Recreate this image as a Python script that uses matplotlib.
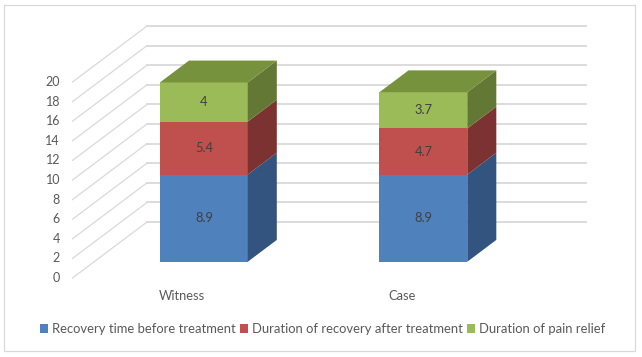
import numpy as np
import matplotlib
matplotlib.use('Agg')
import matplotlib.pyplot as plt
from matplotlib.patches import Polygon, Rectangle, Patch

categories = ['Witness', 'Case']
series_names = ['Recovery time before treatment',
                'Duration of recovery after treatment',
                'Duration of pain relief']
before = [8.9, 8.9]
after = [5.4, 4.7]
relief = [4, 3.7]
yticks = [0, 2, 4, 6, 8, 10, 12, 14, 16, 18, 20]

front_colors = ['#4F81BD', '#C0504D', '#9BBB59']
side_colors = ['#33547E', '#7B3230', '#637835']
top_color = '#76923C'
grid_c = '#D9D9D9'
text_c = '#595959'

plt.rcParams['font.family'] = ['Lato', 'DejaVu Sans']

W, H = 642, 357
fig = plt.figure(figsize=(W / 100, H / 100), dpi=100)
ax = fig.add_axes([0, 0, 1, 1])
ax.axis('off')

# pixel layout -> data: floor front-left corner at px (72.5, 278), 219.5 px per category, 9.8 px per unit
x0px, y0px, xs, ys = 72.5, 278, 219.5, 9.8
ax.set_xlim(-0.5 - x0px / xs, -0.5 + (W - x0px) / xs)
ax.set_ylim(-(H - y0px) / ys, y0px / ys)

# depth vector of the "3D" box (full depth of the floor)
dx, dy = 74.5 / xs, 56 / ys
bar_front, bar_depth = 0.29, 0.39
width = 0.40
n = len(categories)

# walls
for v in yticks:
    ax.plot([-0.5, -0.5 + dx], [v, v + dy], color=grid_c, lw=0.9, zorder=1)
    ax.plot([-0.5 + dx, n - 0.5 + dx], [v + dy, v + dy], color=grid_c, lw=1.3, zorder=1)
    ax.text(-0.5 - 12.5 / xs, v, str(v), ha='right', va='center', fontsize=9, color=text_c)

# bars
x = np.arange(n)
stack = [before, after, relief]
bottoms = np.zeros(n)
for k, vals in enumerate(stack):
    vals = np.array(vals, dtype=float)
    xf = x + bar_front * dx
    yb = bottoms + bar_front * dy
    ax.bar(xf, vals, width=width, bottom=yb, color=front_colors[k], zorder=3)
    for i in range(n):
        xr = xf[i] + width / 2
        xl = xf[i] - width / 2
        y1, y2 = yb[i], yb[i] + vals[i]
        ax.add_patch(Polygon([(xr, y1), (xr + bar_depth * dx, y1 + bar_depth * dy),
                              (xr + bar_depth * dx, y2 + bar_depth * dy), (xr, y2)],
                             closed=True, fc=side_colors[k], ec='none', zorder=3))
        if k == len(stack) - 1:
            ax.add_patch(Polygon([(xl, y2), (xl + bar_depth * dx, y2 + bar_depth * dy),
                                  (xr + bar_depth * dx, y2 + bar_depth * dy), (xr, y2)],
                                 closed=True, fc=top_color, ec='none', zorder=3))
        lbl = ('%g' % vals[i])
        ax.text(xf[i], y1 + vals[i] / 2, lbl, ha='center', va='center',
                fontsize=9.3, color='#404040', zorder=5)
    bottoms = bottoms + vals

for i, c in enumerate(categories):
    ax.text(i, -17.7 / ys, c, ha='center', va='center', fontsize=9.3, color=text_c)

# legend
handles = [Patch(fc=c, ec='none') for c in front_colors]
fig.legend(handles, series_names, loc='center', bbox_to_anchor=(322.5 / W, 1 - 329 / H),
           ncol=3, frameon=False, fontsize=9.4, handlelength=0.61, handleheight=0.61,
           handletextpad=0.33, columnspacing=0.31, labelcolor=text_c, borderpad=0)

# chart border
fig.patches.append(Rectangle((4 / W, 1 - 350.7 / H), 631 / W, 345.7 / H, transform=fig.transFigure,
                             fill=False, ec=grid_c, lw=0.9))

fig.savefig('out.png', dpi=100)
